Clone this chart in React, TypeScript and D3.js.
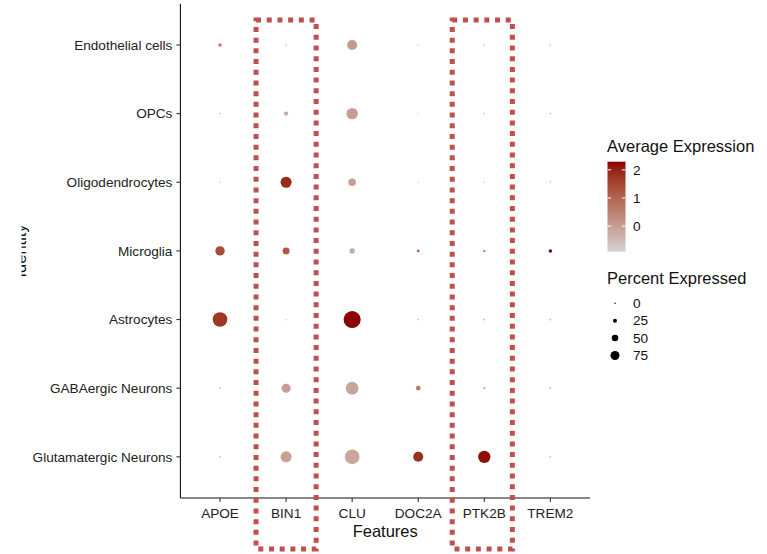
import React from "react";
import * as d3 from "d3";

// features on the x axis, identities top -> bottom
const features = ["APOE", "BIN1", "CLU", "DOC2A", "PTK2B", "TREM2"];
const identities = [
  "Endothelial cells",
  "OPCs",
  "Oligodendrocytes",
  "Microglia",
  "Astrocytes",
  "GABAergic Neurons",
  "Glutamatergic Neurons",
];

// percent expressed, one row per identity (feature order as above)
const pctExp = [
  [15, 3, 54, 1, 2, 2],
  [3, 19, 62, 1, 2, 2],
  [2, 60, 39, 1, 2, 2],
  [50, 35, 25, 10, 7, 14],
  [82, 3, 97, 3, 3, 3],
  [3, 48, 70, 21, 5, 3],
  [4, 60, 82, 54, 68, 3],
];

// average (scaled) expression
const avgExp = [
  [0.5, -0.6, 0.05, -0.7, -0.5, -0.3],
  [-0.5, -0.2, 0.0, -0.7, -0.5, -0.3],
  [-0.6, 1.9, 0.0, -0.7, -0.5, -0.3],
  [1.4, 1.2, -0.2, 0.9, 0.4, 2.29],
  [1.75, -0.91, 2.29, -0.5, -0.4, -0.3],
  [-0.6, 0.0, -0.1, 0.6, 0.1, -0.3],
  [-0.6, -0.05, -0.15, 1.85, 2.2, -0.3],
];

const colorTicks = [0, 1, 2];
const sizeBreaks = [0, 25, 50, 75];
const boxedFeatures = ["BIN1", "PTK2B"];

const App = () => {
  const width = 767;
  const height = 554;
  const plot = { left: 180.4, right: 590, top: 3.8, bottom: 498 };
  const font = "'Liberation Sans', Arial, sans-serif";
  const tickSize = 13.6;
  const titleSize = 16.5;

  const xScale = d3.scalePoint().domain(features).range([plot.left, plot.right]).padding(0.6);
  const yScale = d3.scalePoint().domain(identities.slice().reverse()).range([plot.bottom, plot.top]).padding(0.6);

  const all = avgExp.flat();
  const [cMin, cMax] = d3.extent(all) as [number, number];
  const interp = d3.interpolateLab("lightgrey", "darkred");
  const color = (v: number) => interp((v - cMin) / (cMax - cMin));

  const rScale = d3.scaleLinear().domain([0, 100]).range([0.6, 8.8]);
  const legendR = d3.scaleLinear().domain([0, 75]).range([0.75, 4.5]);

  const points = identities.flatMap((id, i) =>
    features.map((f, j) => ({ id, f, pct: pctExp[i][j], avg: avgExp[i][j] }))
  );

  // colorbar
  const bar = { x: 607.5, w: 18, top: 161.7, bottom: 251.7 };
  const barScale = d3.scaleLinear().domain([cMin, cMax]).range([bar.bottom, bar.top]);
  const stops = d3.range(0, 1.0001, 0.1);

  const legendX = 615;
  const sizeY = d3.scalePoint().domain(sizeBreaks.map(String)).range([303.3, 355.5]);

  const boxHalf = xScale.step() * 0.455;

  return (
    <svg width={width} height={height} style={{ position: "fixed", left: 0, top: 0 }} fontFamily={font}>
      <defs>
        <linearGradient id="cbar" x1="0" y1="1" x2="0" y2="0">
          {stops.map((s) => (
            <stop key={s} offset={s} stopColor={interp(s)} />
          ))}
        </linearGradient>
        <clipPath id="ylabClip">
          <rect x={21.5} y={0} width={200} height={height} />
        </clipPath>
      </defs>
      <rect width={width} height={height} fill="white" />

      {/* dots */}
      {points.map((p) => (
        <circle
          key={p.id + p.f}
          cx={xScale(p.f)}
          cy={yScale(p.id)}
          r={rScale(p.pct)}
          fill={color(p.avg)}
        />
      ))}

      {/* axes */}
      <line x1={plot.left} x2={plot.left} y1={plot.top} y2={plot.bottom} stroke="#111" strokeWidth={1.1} />
      <line x1={plot.left} x2={plot.right} y1={plot.bottom} y2={plot.bottom} stroke="#111" strokeWidth={1.1} />
      {identities.map((id) => (
        <g key={id}>
          <line x1={plot.left - 4} x2={plot.left} y1={yScale(id)} y2={yScale(id)} stroke="#333" strokeWidth={1.1} />
          <text x={plot.left - 8} y={yScale(id)} dy="0.35em" textAnchor="end" fontSize={tickSize} fill="#222">
            {id}
          </text>
        </g>
      ))}
      {features.map((f) => (
        <g key={f}>
          <line x1={xScale(f)} x2={xScale(f)} y1={plot.bottom} y2={plot.bottom + 4} stroke="#333" strokeWidth={1.1} />
          <text x={xScale(f)} y={518} textAnchor="middle" fontSize={tickSize} fill="#222">
            {f}
          </text>
        </g>
      ))}
      <text x={(plot.left + plot.right) / 2} y={537} textAnchor="middle" fontSize={titleSize} fill="#111">
        Features
      </text>
      <g clipPath="url(#ylabClip)">
        <text
          transform={`translate(26,${(plot.top + plot.bottom) / 2}) rotate(-90)`}
          textAnchor="middle"
          fontSize={titleSize}
          fill="#111"
        >
          Identity
        </text>
      </g>

      {/* highlight boxes */}
      {boxedFeatures.map((f) => (
        <rect
          key={f}
          x={(xScale(f) as number) - boxHalf - (f === "PTK2B" ? 2 : 0)}
          y={20}
          width={boxHalf * 2}
          height={529}
          fill="none"
          stroke="#c0504d"
          strokeWidth={5}
          strokeDasharray="5 5.7"
        />
      ))}

      {/* colour legend */}
      <text x={607} y={152} fontSize={titleSize} fill="#111">
        Average Expression
      </text>
      <rect x={bar.x} y={bar.top} width={bar.w} height={bar.bottom - bar.top} fill="url(#cbar)" />
      {colorTicks.map((t) => (
        <g key={t}>
          <line x1={bar.x} x2={bar.x + 3.6} y1={barScale(t)} y2={barScale(t)} stroke="white" strokeWidth={1} />
          <line x1={bar.x + bar.w - 3.6} x2={bar.x + bar.w} y1={barScale(t)} y2={barScale(t)} stroke="white" strokeWidth={1} />
          <text x={633} y={barScale(t)} dy="0.35em" fontSize={tickSize} fill="#111">
            {t}
          </text>
        </g>
      ))}

      {/* size legend */}
      <text x={607} y={284} fontSize={titleSize} fill="#111">
        Percent Expressed
      </text>
      {sizeBreaks.map((b) => (
        <g key={b}>
          <circle cx={legendX} cy={sizeY(String(b))} r={legendR(b)} fill="black" />
          <text x={633} y={sizeY(String(b))} dy="0.35em" fontSize={tickSize} fill="#111">
            {b}
          </text>
        </g>
      ))}
    </svg>
  );
};

export default App;
